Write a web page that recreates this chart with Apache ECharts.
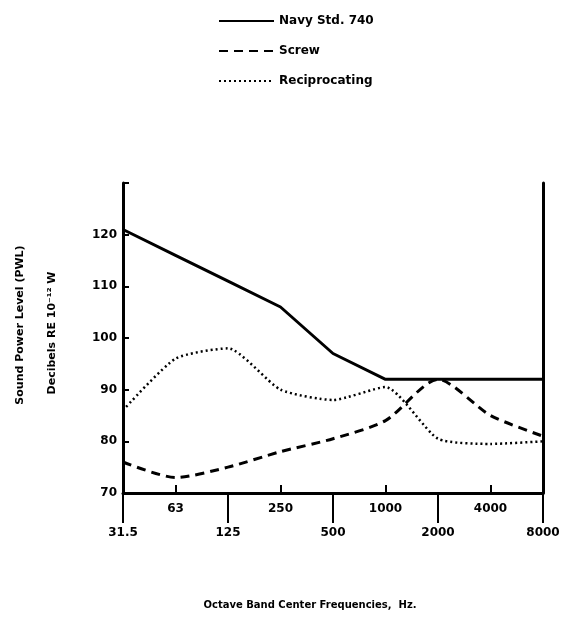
<!DOCTYPE html>
<html>
<head>
<meta charset="utf-8">
<script src="https://cdn.jsdelivr.net/npm/echarts@6/dist/echarts.min.js"></script>
<style>
  html, body { margin: 0; padding: 0; background: #fff; }
  #chart { width: 573px; height: 626px; }
</style>
</head>
<body>
<div id="chart"></div>
<script>
// octave band centre frequencies (Hz)
const frequencies = ['31.5', '63', '125', '250', '500', '1000', '2000', '4000', '8000']
// sound power level, dB re 10^-12 W
const navyStd740 = [121, 116, 111, 106, 97, 92, 92, 92, 92]
const screw = [76, 73, 75, 78, 80.5, 84, 92, 85, 81]
const reciprocating = [86, 96, 98, 90, 88, 90.5, 80.5, 79.5, 80]
const yTicks = [70, 80, 90, 100, 110, 120]

const font = 'DejaVu Sans'
const ink = '#000'

const chart = echarts.init(document.getElementById('chart'))

const isLow = (i) => i % 2 === 0

chart.setOption({
  animation: false,
  backgroundColor: '#fff',
  grid: { left: 123, right: 30, top: 183, bottom: 133 },
  legend: {
    orient: 'vertical',
    left: 213,
    top: 10,
    itemWidth: 55,
    itemHeight: 14,
    itemGap: 18,
    itemStyle: { opacity: 0 },
    textStyle: { fontFamily: font, fontWeight: 'bold', fontSize: 12, color: ink },
    data: ['Navy Std. 740', 'Screw', 'Reciprocating']
  },
  xAxis: [
    {
      type: 'category',
      position: 'bottom',
      data: frequencies,
      boundaryGap: false,
      axisLine: { lineStyle: { color: ink, width: 3 } },
      axisTick: { inside: true, length: 8, lineStyle: { color: ink, width: 2 } },
      axisLabel: {
        interval: (i) => !isLow(i),
        margin: 10,
        color: ink,
        fontFamily: font,
        fontWeight: 'bold',
        fontSize: 12
      },
      splitLine: { show: false }
    },
    {
      type: 'category',
      position: 'bottom',
      data: frequencies,
      boundaryGap: false,
      axisLine: { show: false },
      axisTick: { interval: (i) => isLow(i), length: 30, lineStyle: { color: ink, width: 2 } },
      axisLabel: {
        interval: (i) => isLow(i),
        margin: 34,
        color: ink,
        fontFamily: font,
        fontWeight: 'bold',
        fontSize: 12
      },
      splitLine: { show: false }
    }
  ],
  yAxis: [
    {
      type: 'value',
      min: 70,
      max: 130,
      interval: 10,
      axisLine: { show: true, lineStyle: { color: ink, width: 3 } },
      axisTick: { show: true, inside: true, length: 6, lineStyle: { color: ink, width: 2 } },
      axisLabel: {
        color: ink,
        fontFamily: font,
        fontWeight: 'bold',
        fontSize: 12,
        margin: 6,
        formatter: (v) => (yTicks.includes(v) ? String(v) : '')
      },
      splitLine: { show: false }
    },
    {
      type: 'value',
      position: 'right',
      min: 70,
      max: 130,
      axisLine: { show: true, lineStyle: { color: ink, width: 3 } },
      axisTick: { show: false },
      axisLabel: { show: false },
      splitLine: { show: false }
    }
  ],
  series: [
    {
      name: 'Navy Std. 740',
      type: 'line',
      data: navyStd740,
      showSymbol: false,
      symbol: 'none',
      lineStyle: { color: ink, width: 3 },
      itemStyle: { color: ink }
    },
    {
      name: 'Screw',
      type: 'line',
      data: screw,
      smooth: 0.25,
      showSymbol: false,
      symbol: 'none',
      lineStyle: { color: ink, width: 3, type: [9, 6] },
      itemStyle: { color: ink }
    },
    {
      name: 'Reciprocating',
      type: 'line',
      data: reciprocating,
      smooth: 0.2,
      showSymbol: false,
      symbol: 'none',
      lineStyle: { color: ink, width: 2.5, type: [2, 3] },
      itemStyle: { color: ink }
    }
  ],
  graphic: [
    {
      type: 'text',
      x: 20,
      y: 325,
      rotation: Math.PI / 2,
      style: {
        text: 'Sound Power Level (PWL)',
        fontFamily: font, fontWeight: 'bold', fontSize: 11, fill: ink,
        align: 'center', verticalAlign: 'middle'
      }
    },
    {
      type: 'text',
      x: 52,
      y: 333,
      rotation: Math.PI / 2,
      style: {
        text: 'Decibels RE 10\u207B\u00B9\u00B2 W',
        fontFamily: font, fontWeight: 'bold', fontSize: 11, fill: ink,
        align: 'center', verticalAlign: 'middle'
      }
    },
    {
      type: 'text',
      x: 310,
      y: 605,
      style: {
        text: 'Octave Band Center Frequencies,  Hz.',
        fontFamily: font, fontWeight: 'bold', fontSize: 10, fill: ink,
        align: 'center', verticalAlign: 'middle'
      }
    }
  ]
})
</script>
</body>
</html>
